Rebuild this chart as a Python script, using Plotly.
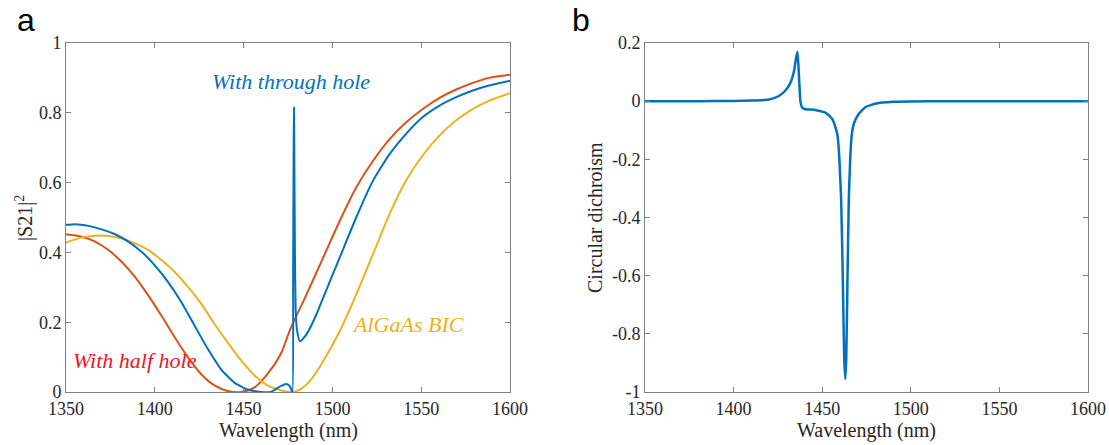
import plotly.graph_objects as go

# ---------------- data ----------------
wl_through = [1350, 1355.2, 1362.7, 1370.1, 1377.6, 1385.1, 1392.5, 1400, 1407.5, 1414.9, 1422.4,
              1429.9, 1437.3, 1444.8, 1452.2, 1459.7, 1465.3, 1470.9, 1474, 1475.8, 1476.8, 1477.5,
              1477.9, 1478.2, 1478.4, 1478.6, 1478.9, 1479.3, 1480, 1481.7, 1485.4, 1491, 1494.8,
              1504.1, 1513.4, 1522.8, 1532.1, 1541.4, 1550.7, 1560.1, 1569.4, 1578.7, 1588.1, 1600]
s21_through = [0.479, 0.481, 0.476, 0.466, 0.452, 0.431, 0.402, 0.363, 0.315, 0.258, 0.19, 0.123,
               0.065, 0.027, 0.007, 0.0, 0.0, 0.017, 0.023, 0.018, 0.008, 0.0, 0.35, 0.72, 0.815,
               0.65, 0.4, 0.24, 0.18, 0.145, 0.165, 0.222, 0.27, 0.385, 0.5, 0.605, 0.681, 0.739,
               0.787, 0.82, 0.844, 0.863, 0.878, 0.892]

wl_half = [1350, 1359, 1366.4, 1373.9, 1381.3, 1388.8, 1396.3, 1403.7, 1411.2, 1418.7, 1426.1, 1433.6,
           1441, 1448.5, 1456, 1463.4, 1470.9, 1476.3, 1485.4, 1494.8, 1504.1, 1513.4, 1522.8, 1532.1,
           1541.4, 1550.7, 1560.1, 1569.4, 1578.7, 1588.1, 1600]
s21_half = [0.452, 0.445, 0.431, 0.407, 0.373, 0.33, 0.277, 0.219, 0.157, 0.099, 0.051, 0.019, 0.003,
            0.0, 0.0125, 0.051, 0.109, 0.18, 0.279, 0.385, 0.49, 0.586, 0.662, 0.724, 0.772, 0.81,
            0.842, 0.866, 0.885, 0.9, 0.909]

wl_bic = [1350, 1359, 1366.4, 1373.9, 1381.3, 1388.8, 1396.3, 1403.7, 1411.2, 1418.7, 1426.1, 1433.6,
          1441, 1448.5, 1456, 1463.4, 1470.9, 1476.5, 1481.7, 1487.3, 1494.8, 1504.1, 1513.4, 1522.8,
          1532.1, 1541.4, 1550.7, 1560.1, 1569.4, 1578.7, 1588.1, 1600]
s21_bic = [0.428, 0.443, 0.448, 0.447, 0.44, 0.426, 0.407, 0.378, 0.344, 0.301, 0.253, 0.195, 0.142,
           0.091, 0.048, 0.019, 0.005, 0.0, 0.007, 0.031, 0.088, 0.174, 0.279, 0.394, 0.509, 0.605,
           0.677, 0.734, 0.777, 0.81, 0.834, 0.856]

wl_cd = [1350, 1380, 1400, 1410, 1415, 1420, 1425, 1429, 1432, 1434, 1435, 1436, 1436.6, 1437.1, 1437.7,
         1438.5, 1440, 1444, 1448, 1450, 1452, 1454, 1456, 1457.5, 1458.7, 1459.7, 1460.7, 1461.6,
         1462.4, 1463.0, 1463.6, 1464.3, 1465.0, 1465.8, 1466.6, 1468, 1470.5, 1474.5, 1480.4, 1490,
         1500, 1520, 1600]
cd_values = [0.0, 0.0, 0.001, 0.002, 0.003, 0.006, 0.016, 0.035, 0.062, 0.1, 0.14, 0.171, 0.12, 0.06,
             0.0, -0.02, -0.027, -0.029, -0.033, -0.036, -0.04, -0.05, -0.065, -0.09, -0.12, -0.2,
             -0.34, -0.6, -0.88, -0.955, -0.88, -0.6, -0.34, -0.2, -0.12, -0.075, -0.045, -0.02,
             -0.008, -0.002, -0.001, 0.0, 0.0]

x_ticks = [1350, 1400, 1450, 1500, 1550, 1600]
x_ticktext = ["1350", "1400", "1450", "1500", "1550", "1600"]
y1_ticks = [0, 0.2, 0.4, 0.6, 0.8, 1]
y1_ticktext = ["0", "0.2", "0.4", "0.6", "0.8", "1"]
y2_ticks = [-1, -0.8, -0.6, -0.4, -0.2, 0, 0.2]
y2_ticktext = ["-1", "-0.8", "-0.6", "-0.4", "-0.2", "0", "0.2"]

# ---------------- styles ----------------
BLUE = "#0072BD"
ORANGE = "#D95319"
YELLOW = "#EDB120"
SERIF = "Liberation Serif"
AX_COLOR = "#808080"
TXT = "#262626"
W, H = 1109, 445

fig = go.Figure()
fig.add_trace(go.Scatter(x=wl_half, y=s21_half, mode="lines",
                         line=dict(color=ORANGE, width=2, shape="spline", smoothing=0.8),
                         xaxis="x", yaxis="y", showlegend=False))
fig.add_trace(go.Scatter(x=wl_bic, y=s21_bic, mode="lines",
                         line=dict(color=YELLOW, width=2, shape="spline", smoothing=0.8),
                         xaxis="x", yaxis="y", showlegend=False))
fig.add_trace(go.Scatter(x=wl_through, y=s21_through, mode="lines",
                         line=dict(color=BLUE, width=2, shape="spline", smoothing=0.5),
                         xaxis="x", yaxis="y", showlegend=False))
fig.add_trace(go.Scatter(x=wl_cd, y=cd_values, mode="lines",
                         line=dict(color=BLUE, width=2.5, shape="spline", smoothing=0.4),
                         xaxis="x2", yaxis="y2", showlegend=False))

ax_common = dict(showline=True, linecolor=AX_COLOR, linewidth=1, mirror="ticks", ticks="inside",
                 ticklen=5, tickcolor=AX_COLOR, showgrid=False, zeroline=False, automargin=False,
                 tickfont=dict(family=SERIF, size=18, color=TXT))

y_top = 1 - 43 / H
y_bot = 1 - 392 / H

fig.update_layout(
    width=W, height=H,
    margin=dict(l=0, r=0, t=0, b=0),
    paper_bgcolor="white", plot_bgcolor="white",
    xaxis=dict(domain=[66 / W, 510 / W], range=[1350, 1600], tickvals=x_ticks, ticktext=x_ticktext,
               anchor="y", **ax_common),
    yaxis=dict(domain=[y_bot, y_top], range=[0, 1], tickvals=y1_ticks, ticktext=y1_ticktext,
               anchor="x", **ax_common),
    xaxis2=dict(domain=[645 / W, 1088 / W], range=[1350, 1600], tickvals=x_ticks, ticktext=x_ticktext,
                anchor="y2", **ax_common),
    yaxis2=dict(domain=[y_bot, y_top], range=[-1, 0.2], tickvals=y2_ticks, ticktext=y2_ticktext,
                anchor="x2", **ax_common),
)

C = dict(xanchor="center", yanchor="middle", showarrow=False)
ann = [
    dict(text="a", x=26 / W, y=1 - 20 / H, xref="paper", yref="paper",
         font=dict(family="Liberation Sans", size=32, color="black"), **C),
    dict(text="b", x=581 / W, y=1 - 20 / H, xref="paper", yref="paper",
         font=dict(family="Liberation Sans", size=32, color="black"), **C),
    dict(text="Wavelength (nm)", x=288 / W, y=1 - 430 / H, xref="paper", yref="paper",
         font=dict(family=SERIF, size=20, color=TXT), **C),
    dict(text="Wavelength (nm)", x=866 / W, y=1 - 430 / H, xref="paper", yref="paper",
         font=dict(family=SERIF, size=20, color=TXT), **C),
    dict(text="|S21|<sup>2</sup>", x=24 / W, y=1 - 218 / H, xref="paper", yref="paper",
         textangle=-90, font=dict(family=SERIF, size=20, color=TXT), **C),
    dict(text="Circular dichroism", x=595 / W, y=1 - 218 / H, xref="paper", yref="paper",
         textangle=-90, font=dict(family=SERIF, size=20, color=TXT), **C),
    dict(text="<i>With through hole</i>", x=1476.7, y=0.891, xref="x", yref="y",
         font=dict(family=SERIF, size=22, color=BLUE), **C),
    dict(text="<i>With half hole</i>", x=1388.6, y=0.09, xref="x", yref="y",
         font=dict(family=SERIF, size=22, color="#F0141E"), **C),
    dict(text="<i>AlGaAs BIC</i>", x=1542.6, y=0.192, xref="x", yref="y",
         font=dict(family=SERIF, size=22, color=YELLOW), **C),
]
fig.update_layout(annotations=ann)

fig.write_html("out.html")
